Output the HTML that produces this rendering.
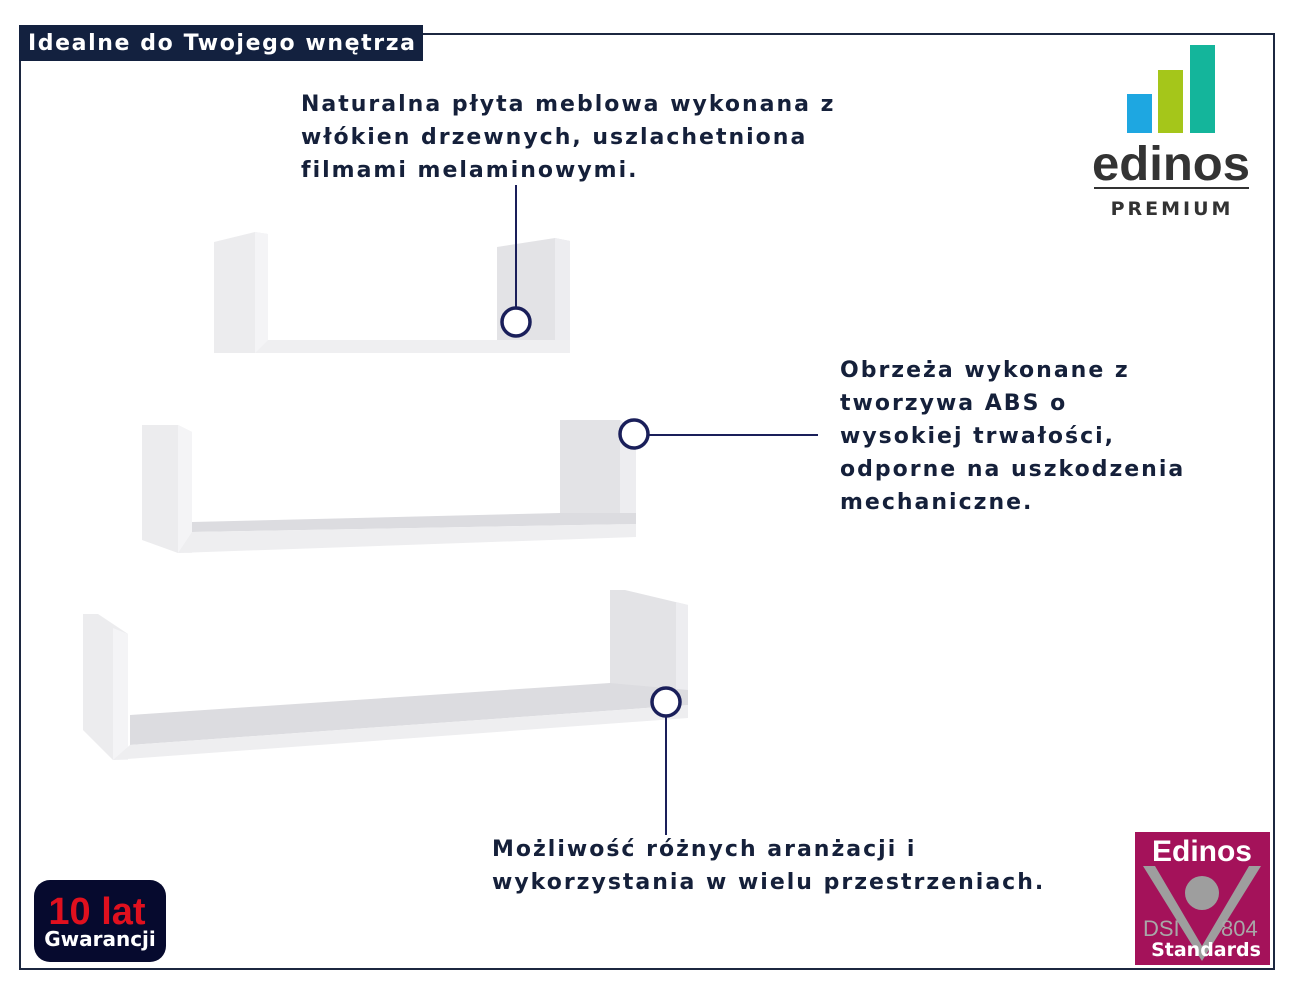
<!DOCTYPE html>
<html><head><meta charset="utf-8"><style>
body{margin:0;width:1300px;height:1000px;background:#fff;position:relative;overflow:hidden;font-family:"DejaVu Sans","Liberation Sans",sans-serif}
.frame{position:absolute;left:19px;top:33px;width:1256px;height:937px;border:2px solid #1c2740;box-sizing:border-box}
.title{position:absolute;left:19px;top:25px;width:404px;height:36px;background:#13213f;color:#fff;font-weight:bold;font-size:22px;letter-spacing:1.6px;line-height:37px;padding-left:9px;box-sizing:border-box;white-space:nowrap}
.t{position:absolute;color:#15203a;font-weight:bold;font-size:22px;letter-spacing:2px;line-height:33px;white-space:nowrap}
</style></head><body>
<div class="frame"></div>
<div class="title">Idealne do Twojego wnętrza</div>
<div class="t" style="left:301px;top:88px">Naturalna płyta meblowa wykonana z<br>włókien drzewnych, uszlachetniona<br>filmami melaminowymi.</div>
<div class="t" style="left:840px;top:354px">Obrzeża wykonane z<br>tworzywa ABS o<br>wysokiej trwałości,<br>odporne na uszkodzenia<br>mechaniczne.</div>
<div class="t" style="left:492px;top:833px">Możliwość różnych aranżacji i<br>wykorzystania w wielu przestrzeniach.</div>
<svg width="1300" height="1000" style="position:absolute;left:0;top:0">
<polygon points="214,242 255,232 268,234 268,340 255,353 214,353" fill="#ececee"/>
<polygon points="255,232 268,234 268,353 255,353" fill="#f4f4f6"/>
<polygon points="497,247 555,238 570,241 570,340 497,340" fill="#e3e3e6"/>
<polygon points="555,238 570,241 570,353 555,353" fill="#ededf0"/>
<polygon points="268,340 570,340 570,353 255,353" fill="#efeff1"/>
<polygon points="142,425 178,425 192,432 192,553 178,553 142,540" fill="#ececee"/>
<polygon points="178,425 192,432 192,553 178,553" fill="#f4f4f6"/>
<polygon points="560,420 620,420 636,432 636,513 560,513" fill="#e3e3e6"/>
<polygon points="620,420 636,432 636,537 620,537" fill="#ededf0"/>
<polygon points="192,522 560,513 636,513 636,524 192,532" fill="#dcdce0"/>
<polygon points="192,532 636,524 636,537 178,553" fill="#eeeef0"/>
<polygon points="83,614 98,614 128,634 128,760 113,760 83,730" fill="#ececee"/>
<polygon points="113,628 128,634 128,760 113,760" fill="#f4f4f6"/>
<polygon points="610,590 625,590 688,605 688,690 610,690" fill="#e3e3e6"/>
<polygon points="676,602 688,605 688,718 676,718" fill="#ededf0"/>
<polygon points="130,715 610,683 688,690 688,705 130,745" fill="#dcdce0"/>
<polygon points="130,745 688,705 688,718 113,760" fill="#eeeef0"/>
<g stroke="#1a1f5a" stroke-width="2" fill="none">
<line x1="516" y1="185" x2="516" y2="308"/>
<line x1="648" y1="435" x2="818" y2="435"/>
<line x1="666" y1="716" x2="666" y2="835"/>
</g>
<g stroke="#1a1f5a" stroke-width="3.5" fill="#fff">
<circle cx="516" cy="322" r="14"/>
<circle cx="634" cy="434" r="14"/>
<circle cx="666" cy="702" r="14"/>
</g>
<rect x="1127" y="94" width="25" height="39" fill="#1ea7e1"/>
<rect x="1158" y="70" width="25" height="63" fill="#a5c61a"/>
<rect x="1190" y="45" width="25" height="88" fill="#14b59b"/>
<text x="1171" y="180" text-anchor="middle" font-family="Liberation Sans,sans-serif" font-weight="bold" font-size="48" fill="#333" textLength="158" lengthAdjust="spacingAndGlyphs">edinos</text>
<rect x="1094" y="187" width="155" height="2" fill="#333"/>
<text x="1172" y="215" text-anchor="middle" font-family="DejaVu Sans,sans-serif" font-weight="bold" font-size="19" fill="#333" letter-spacing="3">PREMIUM</text>
<rect x="1135" y="832" width="135" height="133" fill="#a4125a"/>
<polygon points="1143,866 1155,866 1202,946 1249,866 1261,866 1202,961" fill="#9e9e9e"/>
<circle cx="1202" cy="893" r="17" fill="#9e9e9e"/>
<text x="1202" y="861" text-anchor="middle" font-family="Liberation Sans,sans-serif" font-weight="bold" font-size="30" fill="#fff">Edinos</text>
<text x="1143" y="936" font-family="Liberation Sans,sans-serif" font-size="22" fill="#a8a8a8">DSI</text>
<text x="1221" y="936" font-family="Liberation Sans,sans-serif" font-size="22" fill="#a8a8a8">804</text>
<text x="1206" y="956" text-anchor="middle" font-family="DejaVu Sans,sans-serif" font-weight="bold" font-size="19" fill="#fff">Standards</text>
<rect x="34" y="880" width="132" height="82" rx="16" fill="#060a2e"/>
<text x="97" y="924" text-anchor="middle" font-family="Liberation Sans,sans-serif" font-weight="bold" font-size="38" fill="#e0101e">10 lat</text>
<text x="100" y="946" text-anchor="middle" font-family="DejaVu Sans,sans-serif" font-weight="bold" font-size="20" fill="#fff">Gwarancji</text>
</svg>
</body></html>
